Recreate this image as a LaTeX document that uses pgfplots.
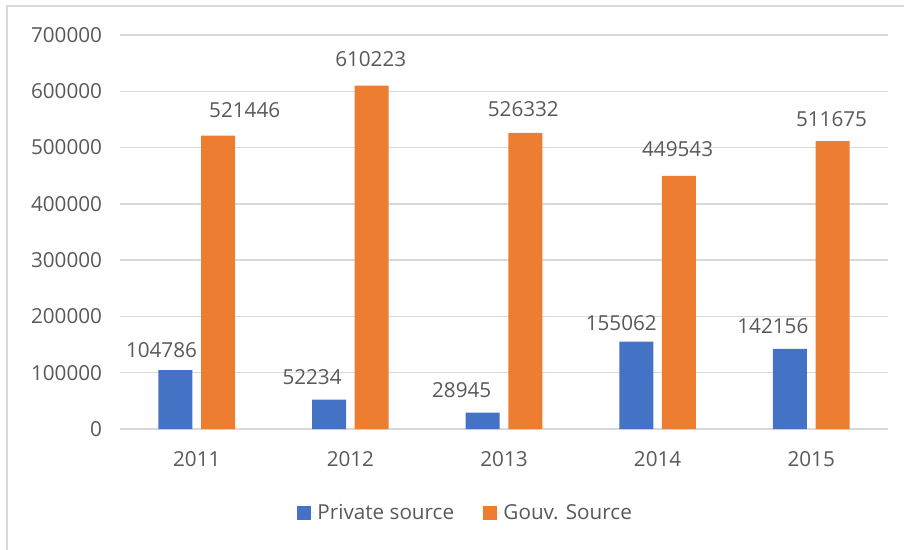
\documentclass[border=0pt]{standalone}
\usepackage{pgfplots}
\usepackage{pgfplotstable}
\pgfplotsset{compat=1.18}
\usepackage{fontspec}
\setmainfont{Open Sans}
\definecolor{cblue}{HTML}{4472C4}
\definecolor{corange}{HTML}{ED7D31}
\definecolor{cgrid}{HTML}{D9D9D9}
\definecolor{ctext}{HTML}{595959}
\pgfplotstableread{
x y dx dy lab
0 104786 -10.5 9.4 104786
1 52234 -12.75 11.25 52234
2 28945 -15.75 10.9 28945
3 155062 -11.25 8.25 155062
4 142156 -12.75 10.9 142156
}\privtab
\pgfplotstableread{
x y dx dy lab
0 521446 19.9 13.5 521446
1 610223 -0.75 13.9 610223
2 526332 -1.5 12.0 526332
3 449543 -1.0 14.25 449543
4 511675 -0.75 10.5 511675
}\govtab
\begin{document}
\begin{tikzpicture}
\useasboundingbox (-90pt,-90.75pt) rectangle (588pt,321.75pt);
\draw[cgrid, line width=1pt] (-84.75pt,-95pt) -- (-84.75pt,317.25pt) -- (595pt,317.25pt);
\begin{axis}[
  scale only axis,
  width=576pt, height=295.5pt,
  xmin=-0.5, xmax=4.5,
  ymin=0, ymax=700000,
  ytick={0,100000,...,700000},
  xtick={0,1,2,3,4},
  xticklabels={2011,2012,2013,2014,2015},
  scaled y ticks=false,
  /pgf/number format/assume math mode=true,
  yticklabel={\pgfmathprintnumber[fixed,precision=0,1000 sep={}]{\tick}},
  major tick length=0pt,
  axis line style={draw=none},
  ymajorgrids,
  grid style={cgrid, line width=1pt},
  font=\fontsize{15.5}{18}\selectfont,
  tick label style={text=ctext, font=\fontsize{15.5}{18}\selectfont},
  yticklabel style={xshift=-10pt},
  xticklabel style={yshift=-13pt},
  ybar, bar width=25.5pt,
  nodes near coords,
  point meta=explicit symbolic,
  visualization depends on={\thisrow{dx} \as \dx},
  visualization depends on={\thisrow{dy} \as \dy},
  nodes near coords style={anchor=south, inner sep=0pt, text=ctext,
     font=\fontsize{15.5}{18}\selectfont, xshift=\dx pt, yshift=\dy pt},
  legend style={at={(0.4505,-0.213)}, anchor=center, draw=none, fill=none,
     legend columns=2, text=ctext, font=\fontsize{15.5}{18}\selectfont,
     /tikz/every even column/.append style={column sep=20pt},
     /tikz/every odd column/.append style={column sep=0pt}},
  legend cell align=left,
  legend image code/.code={\fill[#1] (0pt,-5pt) rectangle (10pt,5pt); \path (0pt,0pt) -- (13pt,0pt);},
]
\addplot[fill=cblue, draw=none, bar shift=-16pt] table[x=x, y=y, meta=lab] {\privtab};
\addlegendentry{Private source}
\addplot[fill=corange, draw=none, bar shift=16pt] table[x=x, y=y, meta=lab] {\govtab};
\addlegendentry{Gouv. Source}
\end{axis}
\end{tikzpicture}
\end{document}
